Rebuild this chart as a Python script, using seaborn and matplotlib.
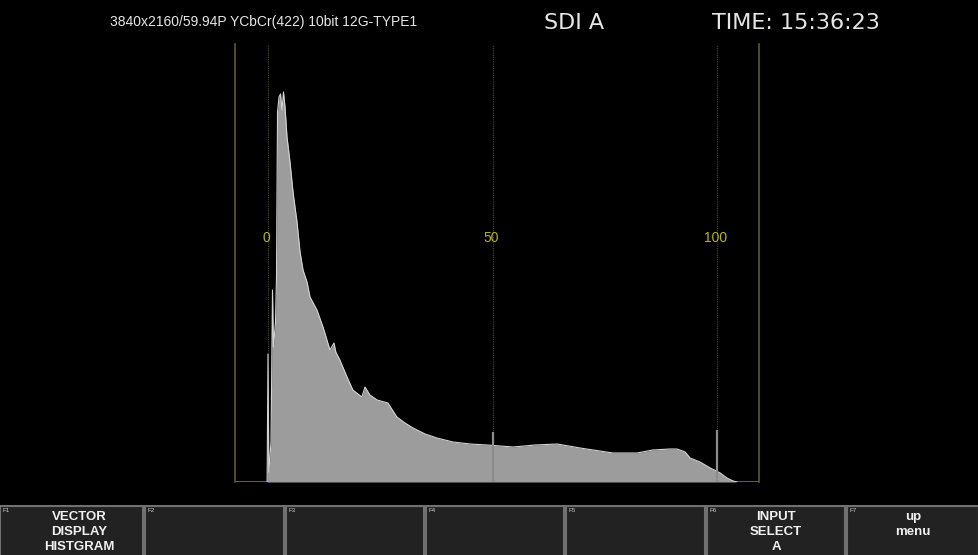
import numpy as np
import pandas as pd
import seaborn as sns
import matplotlib.pyplot as plt
from matplotlib.patches import Rectangle

# luminance level (%) and histogram height (counts, arbitrary units)
level = [-0.2, 0.0, 0.18, 0.67, 1.0, 1.22, 1.67, 1.89, 2.12, 2.45, 2.78, 3.12, 3.45,
         3.79, 4.23, 4.9, 5.57, 6.46, 7.13, 7.8, 8.69, 9.35, 10.9, 12.25, 13.8, 14.7,
         15.1, 16.0, 17.6, 18.9, 20.9, 21.6, 22.7, 24.3, 26.7, 28.7, 30.5, 32.3, 35.0,
         37.6, 41.2, 45.0, 48.8, 54.6, 59.5, 64.4, 69.5, 73.9, 76.8,
         82.2, 85.7, 89.5, 91.1, 92.9, 94.0, 96.2, 98.5, 100.7,
         102.2, 103.6, 104.5]
count = [0, 128, 10, 40, 192, 135, 160, 205, 370, 385, 388, 372, 390,
         375, 345, 320, 290, 260, 230, 212, 200, 185, 172, 155, 132, 139,
         130, 122, 105, 92, 85, 95, 87, 82, 79, 65, 59, 54, 48,
         44, 40, 38, 37, 35, 37, 38, 34, 31, 29,
         29, 32, 33, 33, 30, 24, 20, 14, 9,
         4, 1, 0]

# single-bin spikes at the 50% and 100% markers
spike_level = [50.0, 100.0]
spike_count = [50, 52]

grid_levels = [0, 50, 100]
grid_labels = ["0", "50", "100"]

header = "3840x2160/59.94P YCbCr(422) 10bit 12G-TYPE1"
source = "SDI A"
clock = "TIME: 15:36:23"

fkeys = ["F1", "F2", "F3", "F4", "F5", "F6", "F7"]
fkey_text = [["VECTOR", "DISPLAY", "HISTGRAM"], [], [], [], [],
             ["INPUT", "SELECT", "A"], ["up", "menu"]]

sns.set_theme(style="dark")
plt.rcParams['font.family'] = ['Liberation Sans', 'DejaVu Sans']

fig = plt.figure(figsize=(9.79, 5.55), dpi=100, facecolor="black")
W, H = 979, 555
ax = fig.add_axes([235 / W, (H - 482) / H, (759 - 235) / W, (482 - 44) / H])
ax.set_facecolor("black")

df = pd.DataFrame({"level": level, "count": count})
ax.fill_between(df["level"], df["count"], 0, color="#9c9c9c", lw=0)
sns.lineplot(data=df, x="level", y="count", ax=ax, color="#d4d4d4", lw=0.8,
             sort=False, estimator=None)
ax.vlines(spike_level, 0, spike_count, color="#8c8c8c", lw=1.6, zorder=3)

ax.set_xlim(-7.35, 109.35)
ax.set_ylim(0, 438)
for gx, gl in zip(grid_levels, grid_labels):
    ax.axvline(gx, color="#4a4a22", lw=0.8, ls=(0, (1, 1)), zorder=0)
    ax.text(gx - 0.4, 244, gl, color="#b5b02a", fontsize=10, ha="center", va="center")
ax.axhline(0, color="#7a7634", lw=1.2, zorder=0)
for side in ["left", "right"]:
    ax.spines[side].set_visible(True)
    ax.spines[side].set_color("#5e5a2c")
    ax.spines[side].set_linewidth(1.2)
for side in ["top", "bottom"]:
    ax.spines[side].set_visible(False)
ax.set_xticks([])
ax.set_yticks([])
ax.set_xlabel("")
ax.set_ylabel("")

# header texts
fig.text(264 / W, 1 - 22 / H, header, color="#e6e6e6", fontsize=10, ha="center", va="center")
fig.text(574 / W, 1 - 23 / H, source, color="#e6e6e6", fontsize=16, ha="center",
         va="center", family=["DejaVu Sans"])
fig.text(796 / W, 1 - 23 / H, clock, color="#e6e6e6", fontsize=16, ha="center",
         va="center", family=["DejaVu Sans"])

# function key bar
bar = fig.add_axes([0, 0, 1, 50 / H])
bar.set_xlim(0, W)
bar.set_ylim(50, 0)
bar.axis("off")
bar.set_facecolor("black")
lefts = [0, 145, 286, 426, 566, 707, 847]
rights = [143, 284, 424, 564, 705, 845, 979]
for i, (k, lines) in enumerate(zip(fkeys, fkey_text)):
    x0, x1 = lefts[i], rights[i]
    bar.add_patch(Rectangle((x0, 0.5), x1 - x0, 52, facecolor="#222222",
                            edgecolor="#707070", lw=1.5))
    bar.text(x0 + 3, 2.5, k, color="#c8c8c8", fontsize=4.5, ha="left", va="top")
    cx = (x0 + x1) / 2 + (8 if i == 0 else 0)
    for j, s in enumerate(lines):
        bar.text(cx, 12 + 15 * j, s, color="#f0f0f0", fontsize=9.5, ha="center",
                 va="center", fontweight="bold",
                 family=["Liberation Sans Narrow", "Liberation Sans"])

fig.savefig("out.png", dpi=100, facecolor="black")
